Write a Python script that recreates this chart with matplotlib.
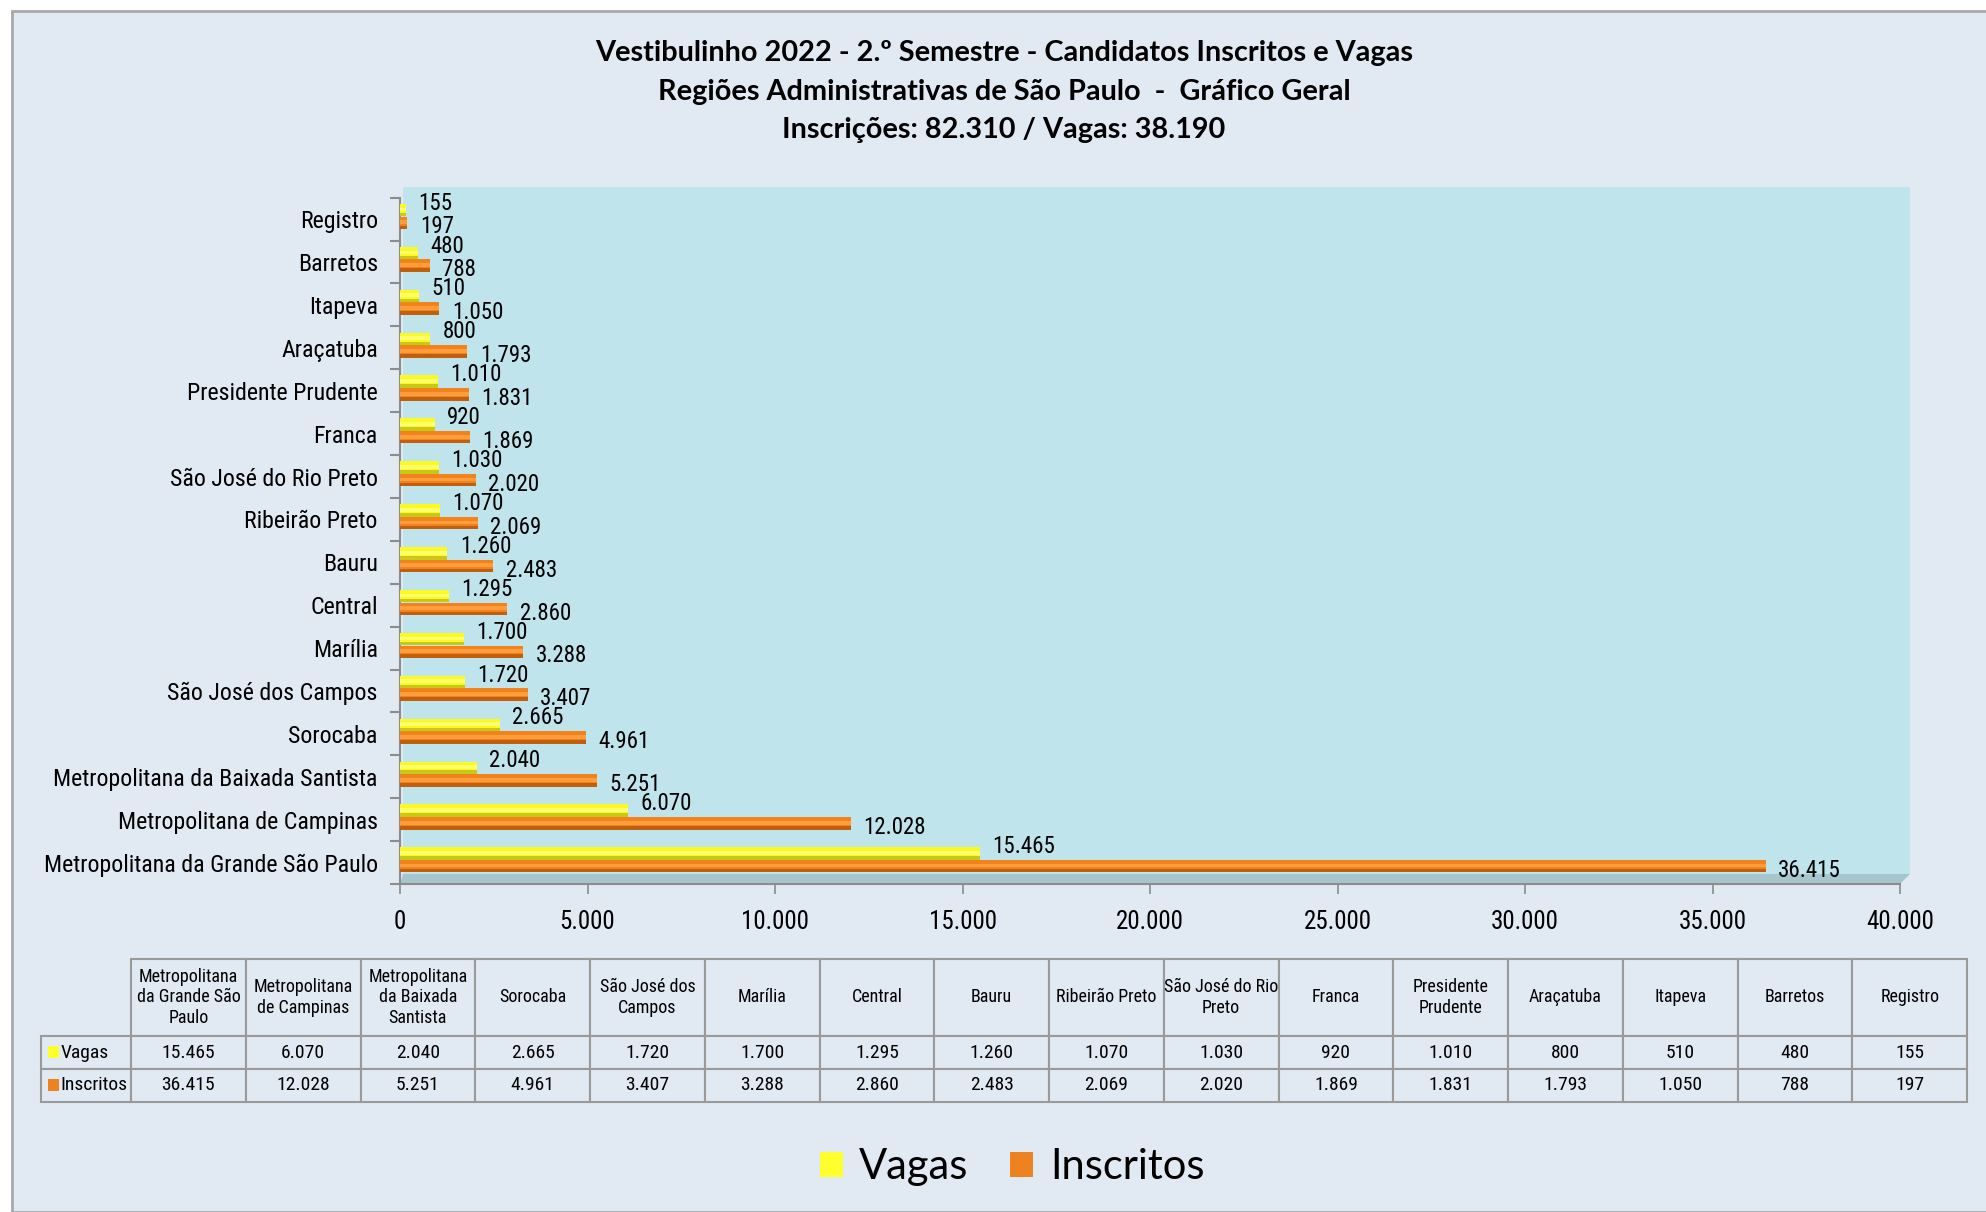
import textwrap
import matplotlib
matplotlib.use("Agg")
import matplotlib.pyplot as plt
from matplotlib import font_manager as fm
from matplotlib.patches import Rectangle, Polygon, Patch

# dados (ordem: de baixo para cima no gráfico / da esquerda para a direita na tabela)
regioes = [
    "Metropolitana da Grande São Paulo",
    "Metropolitana de Campinas",
    "Metropolitana da Baixada Santista",
    "Sorocaba",
    "São José dos Campos",
    "Marília",
    "Central",
    "Bauru",
    "Ribeirão Preto",
    "São José do Rio Preto",
    "Franca",
    "Presidente Prudente",
    "Araçatuba",
    "Itapeva",
    "Barretos",
    "Registro",
]
vagas = [15465, 6070, 2040, 2665, 1720, 1700, 1295, 1260, 1070, 1030, 920, 1010, 800, 510, 480, 155]
inscritos = [36415, 12028, 5251, 4961, 3407, 3288, 2860, 2483, 2069, 2020, 1869, 1831, 1793, 1050, 788, 197]
series = ["Vagas", "Inscritos"]
xticks = list(range(0, 40001, 5000))

titulo = [
    "Vestibulinho 2022 - 2.º Semestre - Candidatos Inscritos e Vagas",
    "Regiões Administrativas de São Paulo  -  Gráfico Geral",
    "Inscrições: 82.310 / Vagas: 38.190",
]

TITLE = ["Lato", "DejaVu Sans"]
BG = "#E1E9F2"
WALL = "#C0E4EC"
YEL, YEL_HI, YEL_SH = "#FAFA22", "#FFFF6A", "#C8C818"
ORA, ORA_HI, ORA_SH = "#F2821C", "#FF9C3C", "#C0600E"
W, H = 1986, 1212

# fonte estreita (se existir alguma instalada), senão Roboto
narrow_path = None
for f in fm.fontManager.ttflist:
    low = f.fname.lower()
    if ("narrow" in low or "condensed" in low) and not any(
            k in low for k in ["bold", "italic", "oblique", "light", "thin", "black"]):
        narrow_path = f.fname
        if "liberation" in low:
            break


def fp(size):
    if narrow_path:
        return fm.FontProperties(fname=narrow_path, size=size)
    return fm.FontProperties(family=["Roboto", "DejaVu Sans"], size=size)


def br(n):
    return f"{n:,}".replace(",", ".")


fig = plt.figure(figsize=(W / 100, H / 100), dpi=100, facecolor="white")

# moldura do gráfico
fig.patches.append(Rectangle((12 / W, 0), 1, 1 - 11 / H, transform=fig.transFigure,
                             facecolor=BG, edgecolor="#A8A8A8", linewidth=2, zorder=-5))

# títulos
for txt, yy in zip(titulo, [53, 92, 130]):
    fig.text(1004 / W, 1 - yy / H, txt, ha="center", va="center", fontsize=20.8,
             fontweight="bold", family=TITLE)

ax = fig.add_axes([400 / W, 1 - 884 / H, 1500 / W, 686.3 / H])
ax.patch.set_visible(False)

# parede de fundo e piso (efeito 3D)
ax.add_patch(Rectangle((0.002, 0.0146), 1.0047, 1.0003, transform=ax.transAxes,
                       facecolor=WALL, edgecolor="none", zorder=0, clip_on=False))
ax.add_patch(Polygon([(0, 0), (1, 0), (1.0067, 0.0146), (0.002, 0.0146)], closed=True,
                     transform=ax.transAxes, facecolor="#A6C6CE", edgecolor="none",
                     zorder=1, clip_on=False))

pos = list(range(len(regioes)))
h = 0.29
y_v = [p + 0.21 for p in pos]
y_i = [p - 0.085 for p in pos]


def cilindro(ys, vals, cor, cor_hi, cor_sh):
    ax.barh(ys, vals, height=h, color=cor, linewidth=0, zorder=3)
    ax.barh([y - h * 0.36 for y in ys], vals, height=h * 0.28, color=cor_sh,
            linewidth=0, zorder=4)
    ax.barh([y + h * 0.05 for y in ys], vals, height=h * 0.3, color=cor_hi,
            linewidth=0, zorder=4)


cilindro(y_v, vagas, YEL, YEL_HI, YEL_SH)
cilindro(y_i, inscritos, ORA, ORA_HI, ORA_SH)

for v, y in zip(vagas, y_v):
    ax.annotate(br(v), xy=(v, y), xytext=(9, 5), textcoords="offset points",
                ha="left", va="center", fontproperties=fp(16.5), zorder=5)
for v, y in zip(inscritos, y_i):
    ax.annotate(br(v), xy=(v, y), xytext=(9, -3), textcoords="offset points",
                ha="left", va="center", fontproperties=fp(16.5), zorder=5)

ax.set_xlim(0, 40000)
ax.set_ylim(-0.5, len(regioes) - 0.5)
ax.set_xticks(xticks)
ax.set_xticklabels([br(t) for t in xticks], fontproperties=fp(18))
ax.set_yticks([p - 0.5 for p in pos] + [len(regioes) - 0.5])
ax.set_yticklabels([])
ax.set_yticks(pos, minor=True)
ylabs = ax.set_yticklabels(regioes, minor=True, fontproperties=fp(18.5))
ax.tick_params(axis="y", which="major", length=7, width=1.5, color="#8C8C8C", direction="out")
ax.tick_params(axis="y", which="minor", length=0, pad=16)
ax.tick_params(axis="x", length=7, width=1.2, color="#8C8C8C", pad=12)
for s in ["top", "right"]:
    ax.spines[s].set_visible(False)
for s in ["left", "bottom"]:
    ax.spines[s].set_color("#8C8C8C")
    ax.spines[s].set_linewidth(1.5)

# ajusta o tamanho dos nomes das regiões para caber à esquerda
fig.canvas.draw()
largura = max(t.get_window_extent().width for t in ylabs)
if largura > 335:
    novo = 18.5 * 335 / largura
    for t in ylabs:
        t.set_fontsize(novo)

# tabela de dados (primeira coluna = nomes das séries)
tab_w = 1967 - 41
tab_h = 1102 - 959
tax = fig.add_axes([41 / W, 1 - 1102 / H, tab_w / W, tab_h / H])
tax.axis("off")
cols = [""] + [textwrap.fill(r, 15) for r in regioes]
cell_text = [[series[0]] + [br(v) for v in vagas],
             [series[1]] + [br(v) for v in inscritos]]
tab = tax.table(cellText=cell_text, colLabels=cols, cellLoc="center", bbox=[0, 0, 1, 1])
tab.auto_set_font_size(False)
lab_w = 90
col_w = (tab_w - lab_w) / len(regioes)
hdr_h, row_h = 77, 33
for (r, c), cell in tab.get_celld().items():
    cell.set_facecolor(BG)
    cell.set_edgecolor("#9A9A9A")
    cell.set_linewidth(1.5)
    cell.get_text().set_fontproperties(fp(13 if r == 0 else 14))
    cell.set_width((lab_w if c == 0 else col_w) / tab_w)
    cell.set_height((hdr_h if r == 0 else row_h) / tab_h)
    if c == 0:
        cell.get_text().set_horizontalalignment("left")
        cell._loc = "left"
        cell.PAD = 0.22
        if r == 0:
            cell.visible_edges = ""

# quadradinhos da legenda dentro da tabela
for cor, yy in [("#FFFF2E", 1052), ("#EE8221", 1085)]:
    fig.patches.append(Rectangle((48 / W, 1 - (yy + 6) / H), 11 / W, 12 / H,
                                 transform=fig.transFigure, facecolor=cor,
                                 edgecolor="none", zorder=5))

# legenda
handles = [Patch(facecolor="#FFFF2E", edgecolor="none"), Patch(facecolor="#EE8221", edgecolor="none")]
fig.legend(handles, series, loc="center", bbox_to_anchor=(1012 / W, 1 - 1167 / H), ncol=2,
           frameon=False, handlelength=0.55, handleheight=0.55,
           handletextpad=0.4, columnspacing=1.0, prop={"family": TITLE, "size": 30})

fig.savefig("out.png", dpi=100, facecolor=fig.get_facecolor())
